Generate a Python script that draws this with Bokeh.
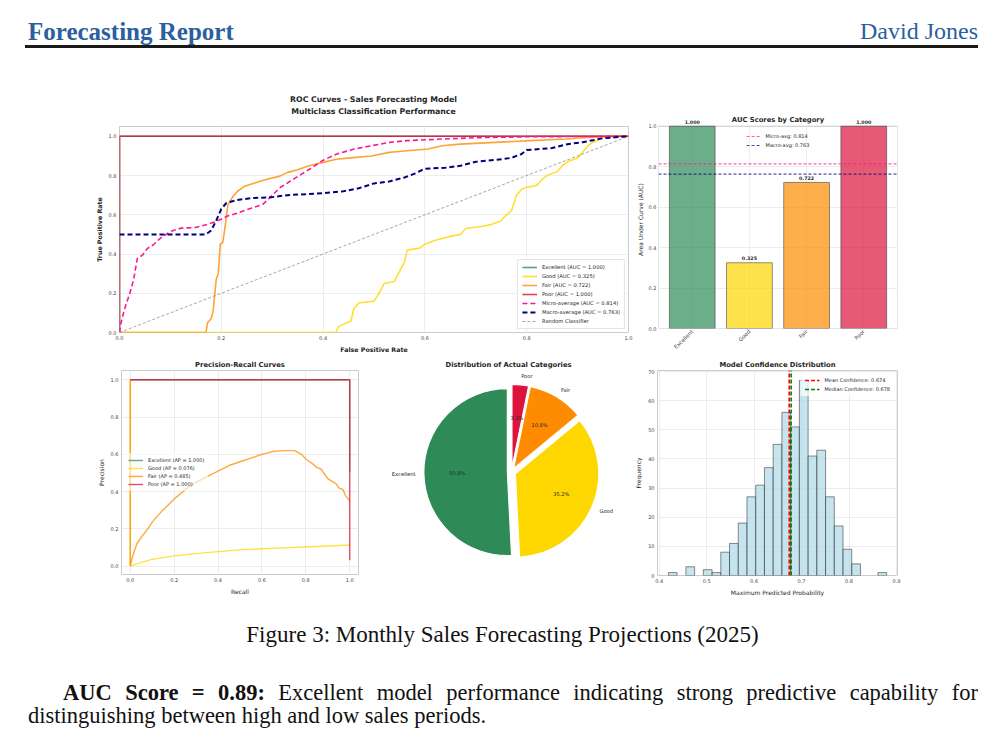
import math
import numpy as np
from bokeh.plotting import figure
from bokeh.models import Div, FixedTicker, PrintfTickFormatter
from bokeh.layouts import column, row
from bokeh.embed import file_html
from bokeh.resources import INLINE
from bokeh.core.properties import value

FONT = "DejaVu Sans"
SERIF = "Liberation Serif"

# ---------------- data ----------------
categories = ["Excellent", "Good", "Fair", "Poor"]
cat_colors = ["#2E8B57", "#FFD700", "#FF8C00", "#DC143C"]
auc_scores = [1.000, 0.325, 0.722, 1.000]
ap_scores = [1.000, 0.076, 0.485, 1.000]
micro_auc = 0.814
macro_auc = 0.763

roc_excellent_fpr = [0.0, 0.0, 1.0]
roc_excellent_tpr = [0.0, 1.0, 1.0]
roc_poor_fpr = [0.0, 0.0, 1.0]
roc_poor_tpr = [0.0, 1.0, 1.0]
roc_good_fpr = [0.0, 0.425, 0.43, 0.455, 0.46, 0.47, 0.50, 0.51, 0.52, 0.54, 0.55, 0.56, 0.565, 0.59,
                0.60, 0.62, 0.65, 0.67, 0.68, 0.71, 0.73, 0.75, 0.76, 0.77, 0.78, 0.79, 0.80, 0.82,
                0.83, 0.84, 0.86, 0.87, 0.88, 0.90, 0.91, 0.92, 0.93, 0.94, 0.95, 1.0]
roc_good_tpr = [0.0, 0.0, 0.03, 0.06, 0.12, 0.15, 0.16, 0.20, 0.25, 0.26, 0.31, 0.36, 0.42, 0.43,
                0.45, 0.47, 0.49, 0.50, 0.53, 0.54, 0.55, 0.57, 0.60, 0.62, 0.70, 0.73, 0.74, 0.75,
                0.78, 0.80, 0.82, 0.85, 0.87, 0.89, 0.92, 0.95, 0.97, 0.98, 1.0, 1.0]
roc_fair_fpr = [0.0, 0.17, 0.173, 0.18, 0.184, 0.19, 0.194, 0.198, 0.203, 0.208, 0.213, 0.222, 0.232,
                0.246, 0.267, 0.288, 0.315, 0.329, 0.35, 0.371, 0.398, 0.426, 0.454, 0.495, 0.53,
                0.565, 0.606, 0.634, 0.669, 0.738, 0.807, 0.877, 0.925, 1.0]
roc_fair_tpr = [0.0, 0.0, 0.05, 0.07, 0.11, 0.27, 0.30, 0.45, 0.46, 0.55, 0.65, 0.69, 0.72,
                0.746, 0.763, 0.78, 0.797, 0.815, 0.83, 0.849, 0.866, 0.883, 0.89, 0.90, 0.918,
                0.926, 0.935, 0.952, 0.96, 0.969, 0.978, 0.986, 0.995, 1.0]
roc_micro_fpr = [0.0, 0.003, 0.01, 0.021, 0.028, 0.035, 0.045, 0.055, 0.066, 0.08, 0.10, 0.121, 0.149,
                 0.17, 0.19, 0.211, 0.232, 0.26, 0.281, 0.295, 0.315, 0.336, 0.357, 0.378, 0.398,
                 0.426, 0.461, 0.495, 0.53, 0.565, 0.634, 0.703, 0.807, 1.0]
roc_micro_tpr = [0.0, 0.05, 0.12, 0.206, 0.274, 0.377, 0.394, 0.429, 0.446, 0.48, 0.515, 0.532, 0.535,
                 0.549, 0.566, 0.592, 0.609, 0.635, 0.652, 0.686, 0.738, 0.772, 0.806, 0.84, 0.875,
                 0.909, 0.935, 0.952, 0.969, 0.978, 0.986, 0.993, 0.998, 1.0]
roc_macro_fpr = [0.0, 0.17, 0.18, 0.19, 0.20, 0.21, 0.23, 0.26, 0.30, 0.33, 0.40, 0.44, 0.47, 0.50,
                 0.53, 0.56, 0.58, 0.60, 0.64, 0.67, 0.70, 0.74, 0.77, 0.79, 0.80, 0.85, 0.88, 0.91,
                 0.95, 1.0]
roc_macro_tpr = [0.5, 0.5, 0.52, 0.57, 0.63, 0.66, 0.675, 0.685, 0.69, 0.70, 0.71, 0.72, 0.735, 0.76,
                 0.77, 0.79, 0.81, 0.835, 0.84, 0.85, 0.87, 0.88, 0.89, 0.91, 0.93, 0.94, 0.96, 0.97,
                 0.99, 1.0]

pr_excellent_recall = [0.0, 1.0, 1.0]
pr_excellent_precision = [1.0, 1.0, 0.508]
pr_poor_recall = [0.0, 1.0, 1.0]
pr_poor_precision = [1.0, 1.0, 0.032]
pr_good_recall = [0.0, 0.0, 0.02, 0.05, 0.1, 0.2, 0.3, 0.4, 0.5, 0.6, 0.7, 0.8, 0.9, 1.0]
pr_good_precision = [1.0, 0.0, 0.008, 0.02, 0.036, 0.055, 0.067, 0.078, 0.087, 0.093, 0.098, 0.103,
                     0.108, 0.113]
pr_fair_recall = [0.0, 0.0, 0.01, 0.03, 0.05, 0.08, 0.10, 0.14, 0.20, 0.26, 0.30, 0.35, 0.40, 0.45,
                  0.50, 0.55, 0.60, 0.65, 0.70, 0.75, 0.78, 0.80, 0.83, 0.85, 0.87, 0.90, 0.92, 0.94,
                  0.95, 0.97, 0.98, 1.0]
pr_fair_precision = [1.0, 0.0, 0.05, 0.12, 0.155, 0.20, 0.236, 0.29, 0.36, 0.42, 0.45, 0.48, 0.51,
                     0.54, 0.56, 0.58, 0.60, 0.615, 0.62, 0.62, 0.60, 0.575, 0.55, 0.53, 0.52, 0.47,
                     0.455, 0.44, 0.42, 0.41, 0.38, 0.35]

pie_pct = [50.8, 35.2, 10.8, 3.2]

hist_counts = [1, 0, 3, 0, 2, 1, 8, 11, 18, 27, 31, 37, 45, 56, 51, 67, 41, 43, 27, 17, 9, 4, 0, 0, 1]
hist_min = 0.4196
hist_max = 0.8792
mean_conf = 0.674
median_conf = 0.678

unit_ticks = [0.0, 0.2, 0.4, 0.6, 0.8, 1.0]

TXT = "#262626"


def base_style(p):
    p.outline_line_color = "#cccccc"
    p.outline_line_width = 1
    for g in p.grid:
        g.grid_line_color = "#e8e8e8"
        g.grid_line_width = 0.8
    for ax in p.axis:
        ax.axis_line_color = None
        ax.major_tick_line_color = None
        ax.minor_tick_line_color = None
        ax.major_tick_out = 0
        ax.major_tick_in = 0
        ax.minor_tick_out = 0
        ax.minor_tick_in = 0
        ax.major_label_text_font = FONT
        ax.major_label_text_font_size = "5px"
        ax.major_label_text_color = "#444444"
        ax.major_label_standoff = 3
        ax.axis_label_text_font = FONT
        ax.axis_label_text_font_size = "6px"
        ax.axis_label_text_font_style = "normal"
        ax.axis_label_text_color = TXT
        ax.axis_label_standoff = 3


def style_title(t, size="6.8px", standoff=3):
    t.align = "center"
    t.text_font = FONT
    t.text_font_size = size
    t.text_font_style = "bold"
    t.text_color = TXT
    t.standoff = standoff


def style_legend(lg, size="5px"):
    lg.label_text_font = FONT
    lg.label_text_font_size = size
    lg.label_text_color = TXT
    lg.glyph_width = 15
    lg.glyph_height = 6
    lg.label_height = 6
    lg.label_standoff = 5
    lg.spacing = 3
    lg.padding = 4
    lg.margin = 3


fmt1 = PrintfTickFormatter(format="%.1f")
COMMON = dict(output_backend="svg", toolbar_location=None, frame_align=False)

# ---------------- header ----------------
header = Div(width=1000, height=55, margin=(0, 0, 0, 0), text=f"""
<div style="position:relative;width:1000px;height:55px;font-family:'{SERIF}',serif;">
<div style="position:absolute;left:28px;top:18px;font-size:25px;line-height:27px;font-weight:bold;color:#2c5f9e;white-space:nowrap;">Forecasting Report</div>
<div style="position:absolute;right:22px;top:18px;font-size:24px;line-height:27px;color:#2c5f9e;white-space:nowrap;">David Jones</div>
<div style="position:absolute;left:25px;top:45px;width:953px;height:2.5px;background:#1a1a1a;"></div>
</div>""")

# ---------------- ROC ----------------
roc_title = Div(width=633, height=70, margin=(0, 0, 0, 0), text=f"""
<div style="position:relative;width:633px;height:70px;">
<div style="position:absolute;left:119px;width:509px;top:39px;text-align:center;font-family:'{FONT}',sans-serif;font-size:7.8px;line-height:12px;font-weight:bold;color:{TXT};white-space:nowrap;">ROC Curves - Sales Forecasting Model<br>Multiclass Classification Performance</div>
</div>""")
roc = figure(width=633, height=230, x_range=(0, 1), y_range=(0, 1.05), title=None, **COMMON,
             min_border_left=119, min_border_right=5, min_border_top=1, min_border_bottom=23)
base_style(roc)
roc_sets = [(roc_excellent_fpr, roc_excellent_tpr), (roc_good_fpr, roc_good_tpr),
            (roc_fair_fpr, roc_fair_tpr), (roc_poor_fpr, roc_poor_tpr)]
for (fx, ty), name, col, a in zip(roc_sets, categories, cat_colors, auc_scores):
    roc.line(fx, ty, line_color=col, line_width=1.6, line_alpha=0.8,
             legend_label=f"{name} (AUC = {a:.3f})")
roc.line(roc_micro_fpr, roc_micro_tpr, line_color="#FF1493", line_width=1.6, line_dash="5 3",
         legend_label=f"Micro-average (AUC = {micro_auc:.3f})")
roc.line(roc_macro_fpr, roc_macro_tpr, line_color="#000080", line_width=2.0, line_dash="5 3",
         legend_label=f"Macro-average (AUC = {macro_auc:.3f})")
roc.line([0, 1], [0, 1], line_color="gray", line_width=1, line_alpha=0.7, line_dash="3 2",
         legend_label="Random Classifier")
roc.xaxis.ticker = FixedTicker(ticks=unit_ticks)
roc.yaxis.ticker = FixedTicker(ticks=unit_ticks)
roc.xaxis.formatter = fmt1
roc.yaxis.formatter = fmt1
roc.xaxis.axis_label = "False Positive Rate"
roc.yaxis.axis_label = "True Positive Rate"
for ax in roc.axis:
    ax.axis_label_text_font_style = "bold"
    ax.axis_label_text_font_size = "6.3px"
lg = roc.legend[0]
style_legend(lg, "5.2px")
lg.location = "bottom_right"
lg.border_line_color = "#cccccc"
lg.background_fill_alpha = 0.9

# ---------------- AUC bars ----------------
# frame extended above 1.0 so that the title and value labels fit inside it
AUC_TOP = 1.0777
AX_L, AX_R = -0.59, 3.59
auc = figure(width=367, height=300, x_range=(AX_L, AX_R), y_range=(0, AUC_TOP), title=None,
             **COMMON,
             min_border_left=23, min_border_right=103, min_border_top=55, min_border_bottom=23)
base_style(auc)
auc.outline_line_color = None
auc.xgrid.visible = False
for ax in auc.axis:
    ax.major_label_standoff = 2
    ax.axis_label_standoff = 2
xs = list(range(len(categories)))
auc.segment(x0=xs, y0=[0] * 4, x1=xs, y1=[1.0] * 4, line_color="#e8e8e8", line_width=0.8)
auc.quad(left=[AX_L], right=[AX_R], bottom=[0], top=[1.0], fill_alpha=0,
         line_color="#cccccc", line_width=1)
auc.vbar(x=xs, top=auc_scores, width=0.8, fill_color=cat_colors, fill_alpha=0.7,
         line_color="#444444", line_alpha=0.6, line_width=1)
auc.line([AX_L, AX_R], [micro_auc, micro_auc], line_color="#FF1493", line_alpha=0.7,
         line_width=1.2, line_dash="3 2", legend_label=f"Micro-avg: {micro_auc:.3f}")
auc.line([AX_L, AX_R], [macro_auc, macro_auc], line_color="#000080", line_alpha=0.7,
         line_width=1.2, line_dash="3 2", legend_label=f"Macro-avg: {macro_auc:.3f}")
auc.text(x=xs, y=[v + 0.012 for v in auc_scores], text=[f"{v:.3f}" for v in auc_scores],
         text_align="center", text_baseline="bottom", text_font=value(FONT),
         text_font_size="4.8px", text_font_style="bold", text_color=TXT)
auc.text(x=[(AX_L + AX_R) / 2], y=[1.029], text=["AUC Scores by Category"], text_align="center",
         text_baseline="middle", text_font=value(FONT), text_font_size="6.8px",
         text_font_style="bold", text_color=TXT)
auc.xaxis.ticker = FixedTicker(ticks=xs)
auc.xaxis.major_label_overrides = {i: c for i, c in enumerate(categories)}
auc.xaxis.major_label_orientation = math.pi / 4
auc.xaxis.major_label_text_font_size = "5.4px"
auc.yaxis.ticker = FixedTicker(ticks=unit_ticks)
auc.yaxis.formatter = fmt1
auc.yaxis.axis_label = "Area Under Curve (AUC)"
lg = auc.legend[0]
style_legend(lg, "5px")
lg.location = "top_center"
lg.margin = 19
lg.border_line_alpha = 0
lg.background_fill_alpha = 0

# ---------------- Precision-Recall ----------------
pr = figure(width=370, height=245, x_range=(-0.04, 1.04), y_range=(-0.045, 1.05),
            title="Precision-Recall Curves", **COMMON,
            min_border_left=121, min_border_right=12, min_border_top=15, min_border_bottom=26)
base_style(pr)
style_title(pr.title, "6.8px", 4)
pr_sets = [(pr_excellent_recall, pr_excellent_precision), (pr_good_recall, pr_good_precision),
           (pr_fair_recall, pr_fair_precision), (pr_poor_recall, pr_poor_precision)]
for (rx, py), name, col, a in zip(pr_sets, categories, cat_colors, ap_scores):
    pr.line(rx, py, line_color=col, line_width=1.4, line_alpha=0.75,
            legend_label=f"{name} (AP = {a:.3f})")
pr.xaxis.ticker = FixedTicker(ticks=unit_ticks)
pr.yaxis.ticker = FixedTicker(ticks=unit_ticks)
pr.xaxis.formatter = fmt1
pr.yaxis.formatter = fmt1
pr.xaxis.axis_label = "Recall"
pr.yaxis.axis_label = "Precision"
lg = pr.legend[0]
style_legend(lg, "5px")
lg.location = "center_left"
lg.border_line_alpha = 0
lg.background_fill_alpha = 0.6
lg.spacing = 2

# ---------------- Pie ----------------
pie = figure(width=260, height=245, x_range=(-1.689, 1.425), y_range=(-1.539, 1.395), title=None,
             **COMMON, min_border=0, x_axis_location=None, y_axis_location=None)
pie.outline_line_color = None
for g in pie.grid:
    g.visible = False
cum = np.concatenate([[0.0], np.cumsum(pie_pct)]) / 100.0 * 360.0
start_deg = 90.0 + cum[:-1]
end_deg = 90.0 + cum[1:]
mid_rad = np.radians((start_deg + end_deg) / 2.0)
explode = 0.05
cx = explode * np.cos(mid_rad)
cy = explode * np.sin(mid_rad)
pie.wedge(x=cx, y=cy, radius=1.0, start_angle=np.radians(start_deg), end_angle=np.radians(end_deg),
          direction="anticlock", fill_color=cat_colors, line_color="white", line_width=1.2)
for i, name in enumerate(categories):
    lx = cx[i] + 1.1 * np.cos(mid_rad[i])
    ly = cy[i] + 1.1 * np.sin(mid_rad[i])
    pie.text(x=[lx], y=[ly], text=[name], text_font=value(FONT), text_font_size="5.2px",
             text_align="left" if lx > 0 else "right", text_baseline="middle", text_color=TXT)
    px_ = cx[i] + 0.6 * np.cos(mid_rad[i])
    py_ = cy[i] + 0.6 * np.sin(mid_rad[i])
    pie.text(x=[px_], y=[py_], text=[f"{pie_pct[i]:.1f}%"], text_font=value(FONT),
             text_font_size="5px", text_align="center", text_baseline="middle", text_color=TXT)
pie.text(x=[-0.036], y=[1.287], text=["Distribution of Actual Categories"], text_font=value(FONT),
         text_font_size="6.8px", text_font_style="bold", text_align="center",
         text_baseline="middle", text_color=TXT)

# ---------------- Histogram ----------------
hist = figure(width=370, height=245, x_range=(0.3966, 0.902), y_range=(0, 70.35),
              title="Model Confidence Distribution", **COMMON,
              min_border_left=27, min_border_right=103, min_border_top=15, min_border_bottom=25)
base_style(hist)
style_title(hist.title, "6.8px", 4)
edges = np.linspace(hist_min, hist_max, len(hist_counts) + 1)
nz = [i for i, c in enumerate(hist_counts) if c > 0]
hist.quad(left=[edges[i] for i in nz], right=[edges[i + 1] for i in nz], bottom=0,
          top=[hist_counts[i] for i in nz], fill_color="#ADD8E6", fill_alpha=0.7,
          line_color="#333333", line_alpha=0.7, line_width=0.8)
hist.line([mean_conf, mean_conf], [0, 70.35], line_color="red", line_width=1.6, line_dash="4 2",
          legend_label=f"Mean Confidence: {mean_conf:.3f}")
hist.line([median_conf, median_conf], [0, 70.35], line_color="green", line_width=1.6,
          line_dash="4 2", legend_label=f"Median Confidence: {median_conf:.3f}")
hist.xaxis.ticker = FixedTicker(ticks=[0.4, 0.5, 0.6, 0.7, 0.8, 0.9])
hist.xaxis.formatter = fmt1
hist.yaxis.ticker = FixedTicker(ticks=[0, 10, 20, 30, 40, 50, 60, 70])
hist.xaxis.axis_label = "Maximum Predicted Probability"
hist.yaxis.axis_label = "Frequency"
lg = hist.legend[0]
style_legend(lg, "5px")
lg.location = "top_right"
lg.border_line_alpha = 0
lg.background_fill_alpha = 0.7

# ---------------- caption & paragraph ----------------
textdiv = Div(width=1000, height=150, margin=(0, 0, 0, 0), text=f"""
<div style="position:relative;width:1000px;height:150px;font-family:'{SERIF}',serif;color:#111;">
<div style="position:absolute;left:5px;width:995px;top:22px;text-align:center;font-size:23px;line-height:26px;white-space:nowrap;">Figure 3: Monthly Sales Forecasting Projections (2025)</div>
<div style="position:absolute;left:63px;width:915px;top:80px;font-size:22.5px;line-height:26px;text-align:justify;text-align-last:justify;white-space:nowrap;"><b>AUC Score = 0.89:</b> Excellent model performance indicating strong predictive capability for</div>
<div style="position:absolute;left:28px;top:103px;font-size:22.5px;line-height:26px;white-space:nowrap;">distinguishing between high and low sales periods.</div>
</div>""")

layout = column(header, row(column(roc_title, roc), auc), row(pr, pie, hist), textdiv)

open("out.html", "w").write(file_html(layout, INLINE))
